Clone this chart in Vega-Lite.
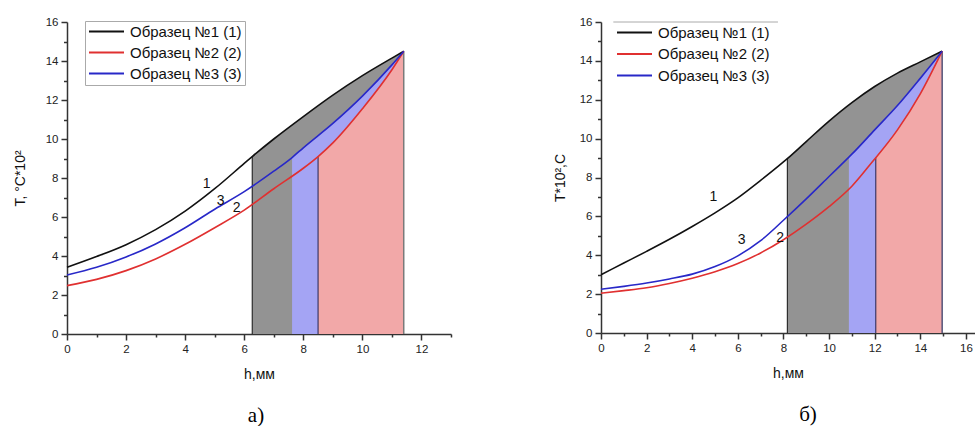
{
  "$schema": "https://vega.github.io/schema/vega-lite/v6.json",
  "padding": {"left": 13, "top": 16, "right": 0, "bottom": 0},
  "spacing": 101,
  "config": {
    "font": "Liberation Sans",
    "view": {"stroke": null},
    "axis": {"grid": false, "domainColor": "#333", "domainWidth": 1.5, "tickColor": "#333", "tickWidth": 1.5, "labelColor": "#222", "labelFontSize": 11.5, "labelFont": "Liberation Sans", "titleFont": "Liberation Sans", "titleFontSize": 14, "titleFontWeight": "normal", "titleColor": "#111", "labelFlush": false, "labelPadding": 3}
  },
  "resolve": {"scale": {"color": "independent"}, "legend": {"color": "independent"}},
  "datasets": {
    "a": [
      {"s": "Образец №1 (1)", "h": 0, "T": 3.42}, {"s": "Образец №1 (1)", "h": 1, "T": 3.97}, {"s": "Образец №1 (1)", "h": 2, "T": 4.58}, {"s": "Образец №1 (1)", "h": 3, "T": 5.35}, {"s": "Образец №1 (1)", "h": 4, "T": 6.3}, {"s": "Образец №1 (1)", "h": 5, "T": 7.45}, {"s": "Образец №1 (1)", "h": 6, "T": 8.75}, {"s": "Образец №1 (1)", "h": 6.27, "T": 9.1}, {"s": "Образец №1 (1)", "h": 7, "T": 10.0}, {"s": "Образец №1 (1)", "h": 8, "T": 11.15}, {"s": "Образец №1 (1)", "h": 9, "T": 12.25}, {"s": "Образец №1 (1)", "h": 10, "T": 13.25}, {"s": "Образец №1 (1)", "h": 11, "T": 14.15}, {"s": "Образец №1 (1)", "h": 11.4, "T": 14.5},
      {"s": "Образец №2 (2)", "h": 0, "T": 2.48}, {"s": "Образец №2 (2)", "h": 1, "T": 2.8}, {"s": "Образец №2 (2)", "h": 2, "T": 3.25}, {"s": "Образец №2 (2)", "h": 3, "T": 3.85}, {"s": "Образец №2 (2)", "h": 4, "T": 4.6}, {"s": "Образец №2 (2)", "h": 5, "T": 5.45}, {"s": "Образец №2 (2)", "h": 6, "T": 6.35}, {"s": "Образец №2 (2)", "h": 7, "T": 7.45}, {"s": "Образец №2 (2)", "h": 8, "T": 8.5}, {"s": "Образец №2 (2)", "h": 8.5, "T": 9.1}, {"s": "Образец №2 (2)", "h": 9, "T": 9.8}, {"s": "Образец №2 (2)", "h": 10, "T": 11.55}, {"s": "Образец №2 (2)", "h": 11, "T": 13.55}, {"s": "Образец №2 (2)", "h": 11.4, "T": 14.5},
      {"s": "Образец №3 (3)", "h": 0, "T": 3.03}, {"s": "Образец №3 (3)", "h": 1, "T": 3.42}, {"s": "Образец №3 (3)", "h": 2, "T": 3.95}, {"s": "Образец №3 (3)", "h": 3, "T": 4.62}, {"s": "Образец №3 (3)", "h": 4, "T": 5.45}, {"s": "Образец №3 (3)", "h": 5, "T": 6.4}, {"s": "Образец №3 (3)", "h": 6, "T": 7.3}, {"s": "Образец №3 (3)", "h": 7, "T": 8.35}, {"s": "Образец №3 (3)", "h": 7.62, "T": 9.05}, {"s": "Образец №3 (3)", "h": 8, "T": 9.55}, {"s": "Образец №3 (3)", "h": 9, "T": 10.8}, {"s": "Образец №3 (3)", "h": 10, "T": 12.2}, {"s": "Образец №3 (3)", "h": 11, "T": 13.8}, {"s": "Образец №3 (3)", "h": 11.4, "T": 14.5}
    ],
    "b": [
      {"s": "Образец №1 (1)", "h": 0, "T": 3.0}, {"s": "Образец №1 (1)", "h": 1, "T": 3.6}, {"s": "Образец №1 (1)", "h": 2, "T": 4.2}, {"s": "Образец №1 (1)", "h": 3, "T": 4.82}, {"s": "Образец №1 (1)", "h": 4, "T": 5.48}, {"s": "Образец №1 (1)", "h": 5, "T": 6.18}, {"s": "Образец №1 (1)", "h": 6, "T": 6.95}, {"s": "Образец №1 (1)", "h": 7, "T": 7.85}, {"s": "Образец №1 (1)", "h": 8, "T": 8.8}, {"s": "Образец №1 (1)", "h": 8.17, "T": 8.97}, {"s": "Образец №1 (1)", "h": 9, "T": 9.85}, {"s": "Образец №1 (1)", "h": 10, "T": 10.9}, {"s": "Образец №1 (1)", "h": 11, "T": 11.85}, {"s": "Образец №1 (1)", "h": 12, "T": 12.68}, {"s": "Образец №1 (1)", "h": 13, "T": 13.37}, {"s": "Образец №1 (1)", "h": 14, "T": 13.95}, {"s": "Образец №1 (1)", "h": 14.96, "T": 14.5},
      {"s": "Образец №2 (2)", "h": 0, "T": 2.05}, {"s": "Образец №2 (2)", "h": 1, "T": 2.18}, {"s": "Образец №2 (2)", "h": 2, "T": 2.33}, {"s": "Образец №2 (2)", "h": 3, "T": 2.55}, {"s": "Образец №2 (2)", "h": 4, "T": 2.82}, {"s": "Образец №2 (2)", "h": 5, "T": 3.15}, {"s": "Образец №2 (2)", "h": 6, "T": 3.57}, {"s": "Образец №2 (2)", "h": 7, "T": 4.12}, {"s": "Образец №2 (2)", "h": 8, "T": 4.8}, {"s": "Образец №2 (2)", "h": 9, "T": 5.6}, {"s": "Образец №2 (2)", "h": 10, "T": 6.5}, {"s": "Образец №2 (2)", "h": 11, "T": 7.55}, {"s": "Образец №2 (2)", "h": 12, "T": 8.95}, {"s": "Образец №2 (2)", "h": 12.05, "T": 9.02}, {"s": "Образец №2 (2)", "h": 13, "T": 10.45}, {"s": "Образец №2 (2)", "h": 14, "T": 12.3}, {"s": "Образец №2 (2)", "h": 14.96, "T": 14.5},
      {"s": "Образец №3 (3)", "h": 0, "T": 2.25}, {"s": "Образец №3 (3)", "h": 1, "T": 2.4}, {"s": "Образец №3 (3)", "h": 2, "T": 2.57}, {"s": "Образец №3 (3)", "h": 3, "T": 2.78}, {"s": "Образец №3 (3)", "h": 4, "T": 3.03}, {"s": "Образец №3 (3)", "h": 5, "T": 3.42}, {"s": "Образец №3 (3)", "h": 6, "T": 3.97}, {"s": "Образец №3 (3)", "h": 7, "T": 4.75}, {"s": "Образец №3 (3)", "h": 8, "T": 5.8}, {"s": "Образец №3 (3)", "h": 9, "T": 6.9}, {"s": "Образец №3 (3)", "h": 10, "T": 8.05}, {"s": "Образец №3 (3)", "h": 10.87, "T": 9.05}, {"s": "Образец №3 (3)", "h": 11, "T": 9.2}, {"s": "Образец №3 (3)", "h": 12, "T": 10.45}, {"s": "Образец №3 (3)", "h": 13, "T": 11.7}, {"s": "Образец №3 (3)", "h": 14, "T": 13.1}, {"s": "Образец №3 (3)", "h": 14.96, "T": 14.5}
    ],
    "ea": [
      {"e": "black", "h": 6.27, "T": 9.1, "b": 0}, {"e": "navy", "h": 8.5, "T": 9.1, "b": 0}, {"e": "gray", "h": 11.4, "T": 14.5, "b": 0}
    ],
    "eb": [
      {"e": "black", "h": 8.17, "T": 8.97, "b": 0}, {"e": "navy", "h": 12.05, "T": 9.02, "b": 0}, {"e": "gray", "h": 14.96, "T": 14.5, "b": 0}
    ],
    "la": [
      {"t": "1", "h": 4.73, "T": 7.68}, {"t": "3", "h": 5.2, "T": 6.82}, {"t": "2", "h": 5.74, "T": 6.45}
    ],
    "lb": [
      {"t": "1", "h": 4.93, "T": 6.99}, {"t": "3", "h": 6.17, "T": 4.8}, {"t": "2", "h": 7.85, "T": 4.9}
    ]
  },
  "hconcat": [
    {
      "width": 384,
      "height": 312,
      "title": {"text": "а)", "orient": "bottom", "font": "Liberation Serif", "fontSize": 21, "fontWeight": "normal", "color": "#000", "offset": 23, "dx": -3, "anchor": "middle"},
      "resolve": {"axis": {"x": "independent", "y": "independent"}},
      "layer": [
        {
          "data": {"name": "a"},
          "transform": [{"filter": "datum.s === 'Образец №1 (1)' && datum.h >= 6.27"}],
          "mark": {"type": "area", "color": "#939393", "interpolate": "monotone", "opacity": 1},
          "encoding": {
            "x": {"field": "h", "type": "quantitative", "scale": {"domain": [0, 13], "nice": false}, "axis": {"orient": "bottom", "values": [1, 3, 5, 7, 9, 11, 13], "labels": false, "domain": false, "tickSize": 3, "title": null}},
            "y": {"field": "T", "type": "quantitative", "scale": {"domain": [0, 16], "nice": false}, "axis": {"orient": "left", "values": [1, 3, 5, 7, 9, 11, 13, 15], "labels": false, "domain": false, "tickSize": 3.5, "title": null}}
          }
        },
        {
          "data": {"name": "a"},
          "transform": [{"filter": "datum.s === 'Образец №3 (3)' && datum.h >= 7.62"}],
          "mark": {"type": "area", "color": "#a4a4f4", "interpolate": "monotone"},
          "encoding": {
            "x": {"field": "h", "type": "quantitative", "axis": null},
            "y": {"field": "T", "type": "quantitative", "axis": null}
          }
        },
        {
          "data": {"name": "a"},
          "transform": [{"filter": "datum.s === 'Образец №2 (2)' && datum.h >= 8.5"}],
          "mark": {"type": "area", "color": "#f2a8a8", "interpolate": "monotone"},
          "encoding": {
            "x": {"field": "h", "type": "quantitative", "axis": null},
            "y": {"field": "T", "type": "quantitative", "axis": null}
          }
        },
        {
          "data": {"name": "ea"},
          "transform": [{"filter": "datum.e === 'black'"}],
          "mark": {"type": "rule", "color": "#111", "strokeWidth": 1},
          "encoding": {
            "x": {"field": "h", "type": "quantitative", "axis": null},
            "y": {"field": "T", "type": "quantitative", "axis": null},
            "y2": {"field": "b"}
          }
        },
        {
          "data": {"name": "ea"},
          "transform": [{"filter": "datum.e === 'navy'"}],
          "mark": {"type": "rule", "color": "#222250", "strokeWidth": 1},
          "encoding": {
            "x": {"field": "h", "type": "quantitative", "axis": null},
            "y": {"field": "T", "type": "quantitative", "axis": null},
            "y2": {"field": "b"}
          }
        },
        {
          "data": {"name": "ea"},
          "transform": [{"filter": "datum.e === 'gray'"}],
          "mark": {"type": "rule", "color": "#7a7a7a", "strokeWidth": 1.5},
          "encoding": {
            "x": {"field": "h", "type": "quantitative", "axis": null},
            "y": {"field": "T", "type": "quantitative", "axis": null},
            "y2": {"field": "b"}
          }
        },
        {
          "data": {"name": "a"},
          "mark": {"type": "line", "interpolate": "monotone", "strokeWidth": 1.6},
          "encoding": {
            "x": {"field": "h", "type": "quantitative", "axis": {"orient": "bottom", "values": [0, 2, 4, 6, 8, 10, 12], "title": "h,мм", "tickSize": 6, "titlePadding": 13}},
            "y": {"field": "T", "type": "quantitative", "axis": {"orient": "left", "values": [0, 2, 4, 6, 8, 10, 12, 14, 16], "title": "T, °C*10²", "tickSize": 6, "titlePadding": 18}},
            "color": {
              "field": "s", "type": "nominal",
              "scale": {"domain": ["Образец №1 (1)", "Образец №2 (2)", "Образец №3 (3)"], "range": ["#111111", "#e03030", "#2828c8"]},
              "legend": {"orient": "none", "legendX": 18, "legendY": -1, "title": null, "symbolType": "stroke", "symbolSize": 1225, "symbolStrokeWidth": 2, "clipHeight": 15, "rowPadding": 5, "padding": 3, "labelFontSize": 15, "labelColor": "#111", "labelOffset": 5, "strokeColor": "#aaaaaa", "fillColor": "white"}
            }
          }
        },
        {
          "data": {"name": "la"},
          "mark": {"type": "text", "fontSize": 14, "color": "#111", "align": "center", "baseline": "middle"},
          "encoding": {
            "x": {"field": "h", "type": "quantitative", "axis": null},
            "y": {"field": "T", "type": "quantitative", "axis": null},
            "text": {"field": "t", "type": "nominal"}
          }
        }
      ]
    },
    {
      "width": 374,
      "height": 311,
      "title": {"text": "б)", "orient": "bottom", "font": "Liberation Serif", "fontSize": 21, "fontWeight": "normal", "color": "#000", "offset": 23, "dx": 20, "anchor": "middle"},
      "resolve": {"axis": {"x": "independent", "y": "independent"}},
      "layer": [
        {
          "data": {"name": "b"},
          "transform": [{"filter": "datum.s === 'Образец №1 (1)' && datum.h >= 8.17"}],
          "mark": {"type": "area", "color": "#939393", "interpolate": "monotone"},
          "encoding": {
            "x": {"field": "h", "type": "quantitative", "scale": {"domain": [0, 16.4], "nice": false}, "axis": {"orient": "bottom", "values": [1, 3, 5, 7, 9, 11, 13, 15], "labels": false, "domain": false, "tickSize": 3, "title": null}},
            "y": {"field": "T", "type": "quantitative", "scale": {"domain": [0, 16], "nice": false}, "axis": {"orient": "left", "values": [1, 3, 5, 7, 9, 11, 13, 15], "labels": false, "domain": false, "tickSize": 3.5, "title": null}}
          }
        },
        {
          "data": {"name": "b"},
          "transform": [{"filter": "datum.s === 'Образец №3 (3)' && datum.h >= 10.87"}],
          "mark": {"type": "area", "color": "#a4a4f4", "interpolate": "monotone"},
          "encoding": {
            "x": {"field": "h", "type": "quantitative", "axis": null},
            "y": {"field": "T", "type": "quantitative", "axis": null}
          }
        },
        {
          "data": {"name": "b"},
          "transform": [{"filter": "datum.s === 'Образец №2 (2)' && datum.h >= 12.05"}],
          "mark": {"type": "area", "color": "#f2a8a8", "interpolate": "monotone"},
          "encoding": {
            "x": {"field": "h", "type": "quantitative", "axis": null},
            "y": {"field": "T", "type": "quantitative", "axis": null}
          }
        },
        {
          "data": {"name": "eb"},
          "transform": [{"filter": "datum.e === 'black'"}],
          "mark": {"type": "rule", "color": "#111", "strokeWidth": 1},
          "encoding": {
            "x": {"field": "h", "type": "quantitative", "axis": null},
            "y": {"field": "T", "type": "quantitative", "axis": null},
            "y2": {"field": "b"}
          }
        },
        {
          "data": {"name": "eb"},
          "transform": [{"filter": "datum.e === 'navy'"}],
          "mark": {"type": "rule", "color": "#222250", "strokeWidth": 1},
          "encoding": {
            "x": {"field": "h", "type": "quantitative", "axis": null},
            "y": {"field": "T", "type": "quantitative", "axis": null},
            "y2": {"field": "b"}
          }
        },
        {
          "data": {"name": "eb"},
          "transform": [{"filter": "datum.e === 'gray'"}],
          "mark": {"type": "rule", "color": "#55557a", "strokeWidth": 1.5},
          "encoding": {
            "x": {"field": "h", "type": "quantitative", "axis": null},
            "y": {"field": "T", "type": "quantitative", "axis": null},
            "y2": {"field": "b"}
          }
        },
        {
          "data": {"values": [{"h": 0.54, "h2": 7.76, "T": 16}]},
          "mark": {"type": "rule", "color": "#aaaaaa", "strokeWidth": 1},
          "encoding": {
            "x": {"field": "h", "type": "quantitative", "axis": null},
            "x2": {"field": "h2"},
            "y": {"field": "T", "type": "quantitative", "axis": null}
          }
        },
        {
          "data": {"name": "b"},
          "mark": {"type": "line", "interpolate": "monotone", "strokeWidth": 1.6},
          "encoding": {
            "x": {"field": "h", "type": "quantitative", "axis": {"orient": "bottom", "values": [0, 2, 4, 6, 8, 10, 12, 14, 16], "title": "h,мм", "tickSize": 6, "titlePadding": 13}},
            "y": {"field": "T", "type": "quantitative", "axis": {"orient": "left", "values": [0, 2, 4, 6, 8, 10, 12, 14, 16], "title": "T*10²,C", "tickSize": 6, "titlePadding": 12}},
            "color": {
              "field": "s", "type": "nominal",
              "scale": {"domain": ["Образец №1 (1)", "Образец №2 (2)", "Образец №3 (3)"], "range": ["#111111", "#e03030", "#2828c8"]},
              "legend": {"orient": "none", "legendX": 12, "legendY": 0, "title": null, "symbolType": "stroke", "symbolSize": 1225, "symbolStrokeWidth": 2, "clipHeight": 15, "rowPadding": 5.5, "padding": 3, "labelFontSize": 15, "labelColor": "#111", "labelOffset": 5}
            }
          }
        },
        {
          "data": {"name": "lb"},
          "mark": {"type": "text", "fontSize": 14, "color": "#111", "align": "center", "baseline": "middle"},
          "encoding": {
            "x": {"field": "h", "type": "quantitative", "axis": null},
            "y": {"field": "T", "type": "quantitative", "axis": null},
            "text": {"field": "t", "type": "nominal"}
          }
        }
      ]
    }
  ]
}
